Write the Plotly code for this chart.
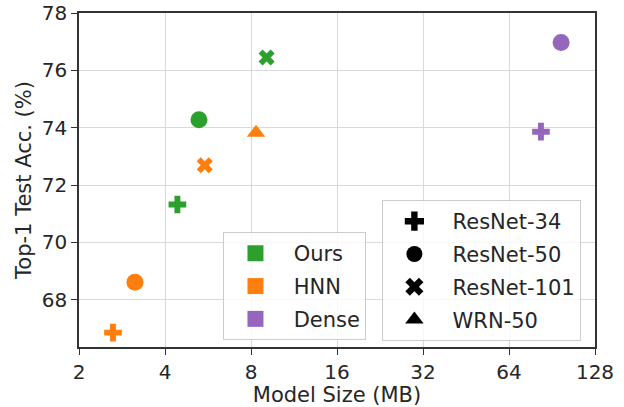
import plotly.graph_objects as go

methods = ["Ours", "HNN", "Dense"]
method_colors = ["#2ca02c", "#ff7f0e", "#9467bd"]

models = ["ResNet-34", "ResNet-50", "ResNet-101", "WRN-50"]
model_symbols = ["cross", "circle", "x", "triangle-up"]
model_sizes = [14.7, 17, 14.2, 16]

ours_model = ["ResNet-34", "ResNet-50", "ResNet-101"]
ours_size = [4.42, 5.26, 9.07]
ours_acc = [71.32, 74.28, 76.45]

hnn_model = ["ResNet-34", "ResNet-50", "ResNet-101", "WRN-50"]
hnn_size = [2.63, 3.14, 5.51, 8.33]
hnn_acc = [66.85, 68.61, 72.69, 73.82]

dense_model = ["ResNet-34", "ResNet-50"]
dense_size = [82.8, 97.4]
dense_acc = [73.86, 76.97]

x_ticks = [2, 4, 8, 16, 32, 64, 128]
y_ticks = [68, 70, 72, 74, 76, 78]

FONT = "DejaVu Sans"
TXT = "#262626"
NB = "\u00a0"

fig = go.Figure()

series = [
    (ours_model, ours_size, ours_acc, method_colors[0]),
    (hnn_model, hnn_size, hnn_acc, method_colors[1]),
    (dense_model, dense_size, dense_acc, method_colors[2]),
]
sym_map = dict(zip(models, model_symbols))
size_map = dict(zip(models, model_sizes))
for mdl, xs, ys, col in series:
    fig.add_trace(go.Scatter(
        x=xs, y=ys, mode="markers", showlegend=False,
        marker=dict(color=col, symbol=[sym_map[m] for m in mdl], opacity=1,
                    size=[size_map[m] for m in mdl], line=dict(width=0)),
    ))

for i, (name, col) in enumerate(zip(methods, method_colors)):
    fig.add_trace(go.Scatter(
        x=[None], y=[None], mode="markers", name=NB + name, legend="legend",
        legendgroup="m%d" % i,
        marker=dict(color=col, size=17, symbol="square", line=dict(width=0)),
    ))
for i, (name, sym) in enumerate(zip(models, model_symbols)):
    fig.add_trace(go.Scatter(
        x=[None], y=[None], mode="markers", name=NB + name, legend="legend2",
        legendgroup="a%d" % i,
        marker=dict(color="black", size=17, symbol=sym, line=dict(width=0)),
    ))

axis_common = dict(
    showline=True, linecolor="#333333", linewidth=1.5, mirror=True,
    showgrid=True, gridcolor="#d9d9d9", gridwidth=1.3,
    ticks="outside", ticklen=6, tickwidth=1.3, tickcolor="#333333",
    tickfont=dict(family=FONT, size=20, color=TXT),
    zeroline=False, automargin=False,
)

leg_common = dict(
    bgcolor="rgba(255,255,255,0.8)", bordercolor="#cccccc", borderwidth=1,
    font=dict(family=FONT, size=21, color=TXT), itemwidth=53,
    tracegroupgap=2.5, xanchor="left", yanchor="top",
)

fig.update_layout(
    width=624, height=407,
    margin=dict(l=79, r=29, t=13, b=60),
    paper_bgcolor="white", plot_bgcolor="white",
    font=dict(family=FONT, color=TXT),
    xaxis=dict(type="log", range=[0.30103, 2.10721], tickvals=x_ticks,
               ticktext=[str(v) for v in x_ticks],
               title=dict(text="Model Size (MB)", font=dict(family=FONT, size=21, color=TXT), standoff=10),
               **axis_common),
    yaxis=dict(range=[66.35, 78], tickvals=y_ticks,
               title=dict(text="Top-1 Test Acc. (%)", font=dict(family=FONT, size=21, color=TXT), standoff=4),
               **axis_common),
    legend=dict(x=0.279, y=0.344, **leg_common),
    legend2=dict(x=0.587, y=0.44, **leg_common),
)

fig.write_html("out.html")
